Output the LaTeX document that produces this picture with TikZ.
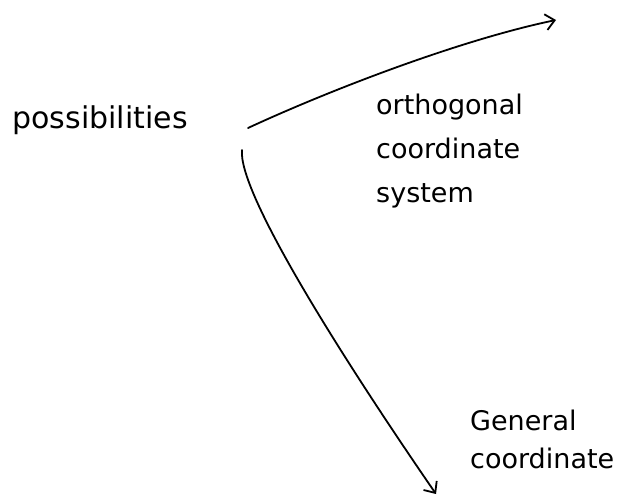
\documentclass[tikz,border=0pt]{standalone}
\usepackage{fontspec}
\setmainfont{DejaVu Sans}
\usetikzlibrary{arrows.meta}
\begin{document}
\begin{tikzpicture}[x=1pt,y=-1pt,
  ink/.style={line width=1.8pt,line cap=round,line join=round,black},
  hand/.style={inner sep=0pt,align=center},
  big/.style={font=\fontsize{30}{34}\selectfont},
  mid/.style={font=\fontsize{27}{44}\selectfont},
  tip/.style={-{Straight Barb[length=9pt,width=16pt,line width=1.8pt]}}]
\useasboundingbox (0,0) rectangle (629,502);
\fill[white] (0,0) rectangle (629,502);
\node[hand,big] (poss) at (100,120) {possibilities};
\node[hand,mid,align=left,anchor=north west] (orth) at (376,94) {orthogonal\\coordinate\\system};
\node[hand,align=left,anchor=north west,font=\fontsize{27}{38}\selectfont] (gen) at (470,410) {General\\coordinate};
\coordinate (o1) at (248,128);
\coordinate (e1) at (556,20);
\coordinate (o2) at (242,150);
\coordinate (e2) at (436,494);
\draw[ink,tip] (o1) .. controls (330,90) and (460,40) .. (e1);
\draw[ink,tip] (o2) .. controls (238,190) and (330,340) .. (e2);
\end{tikzpicture}
\end{document}
